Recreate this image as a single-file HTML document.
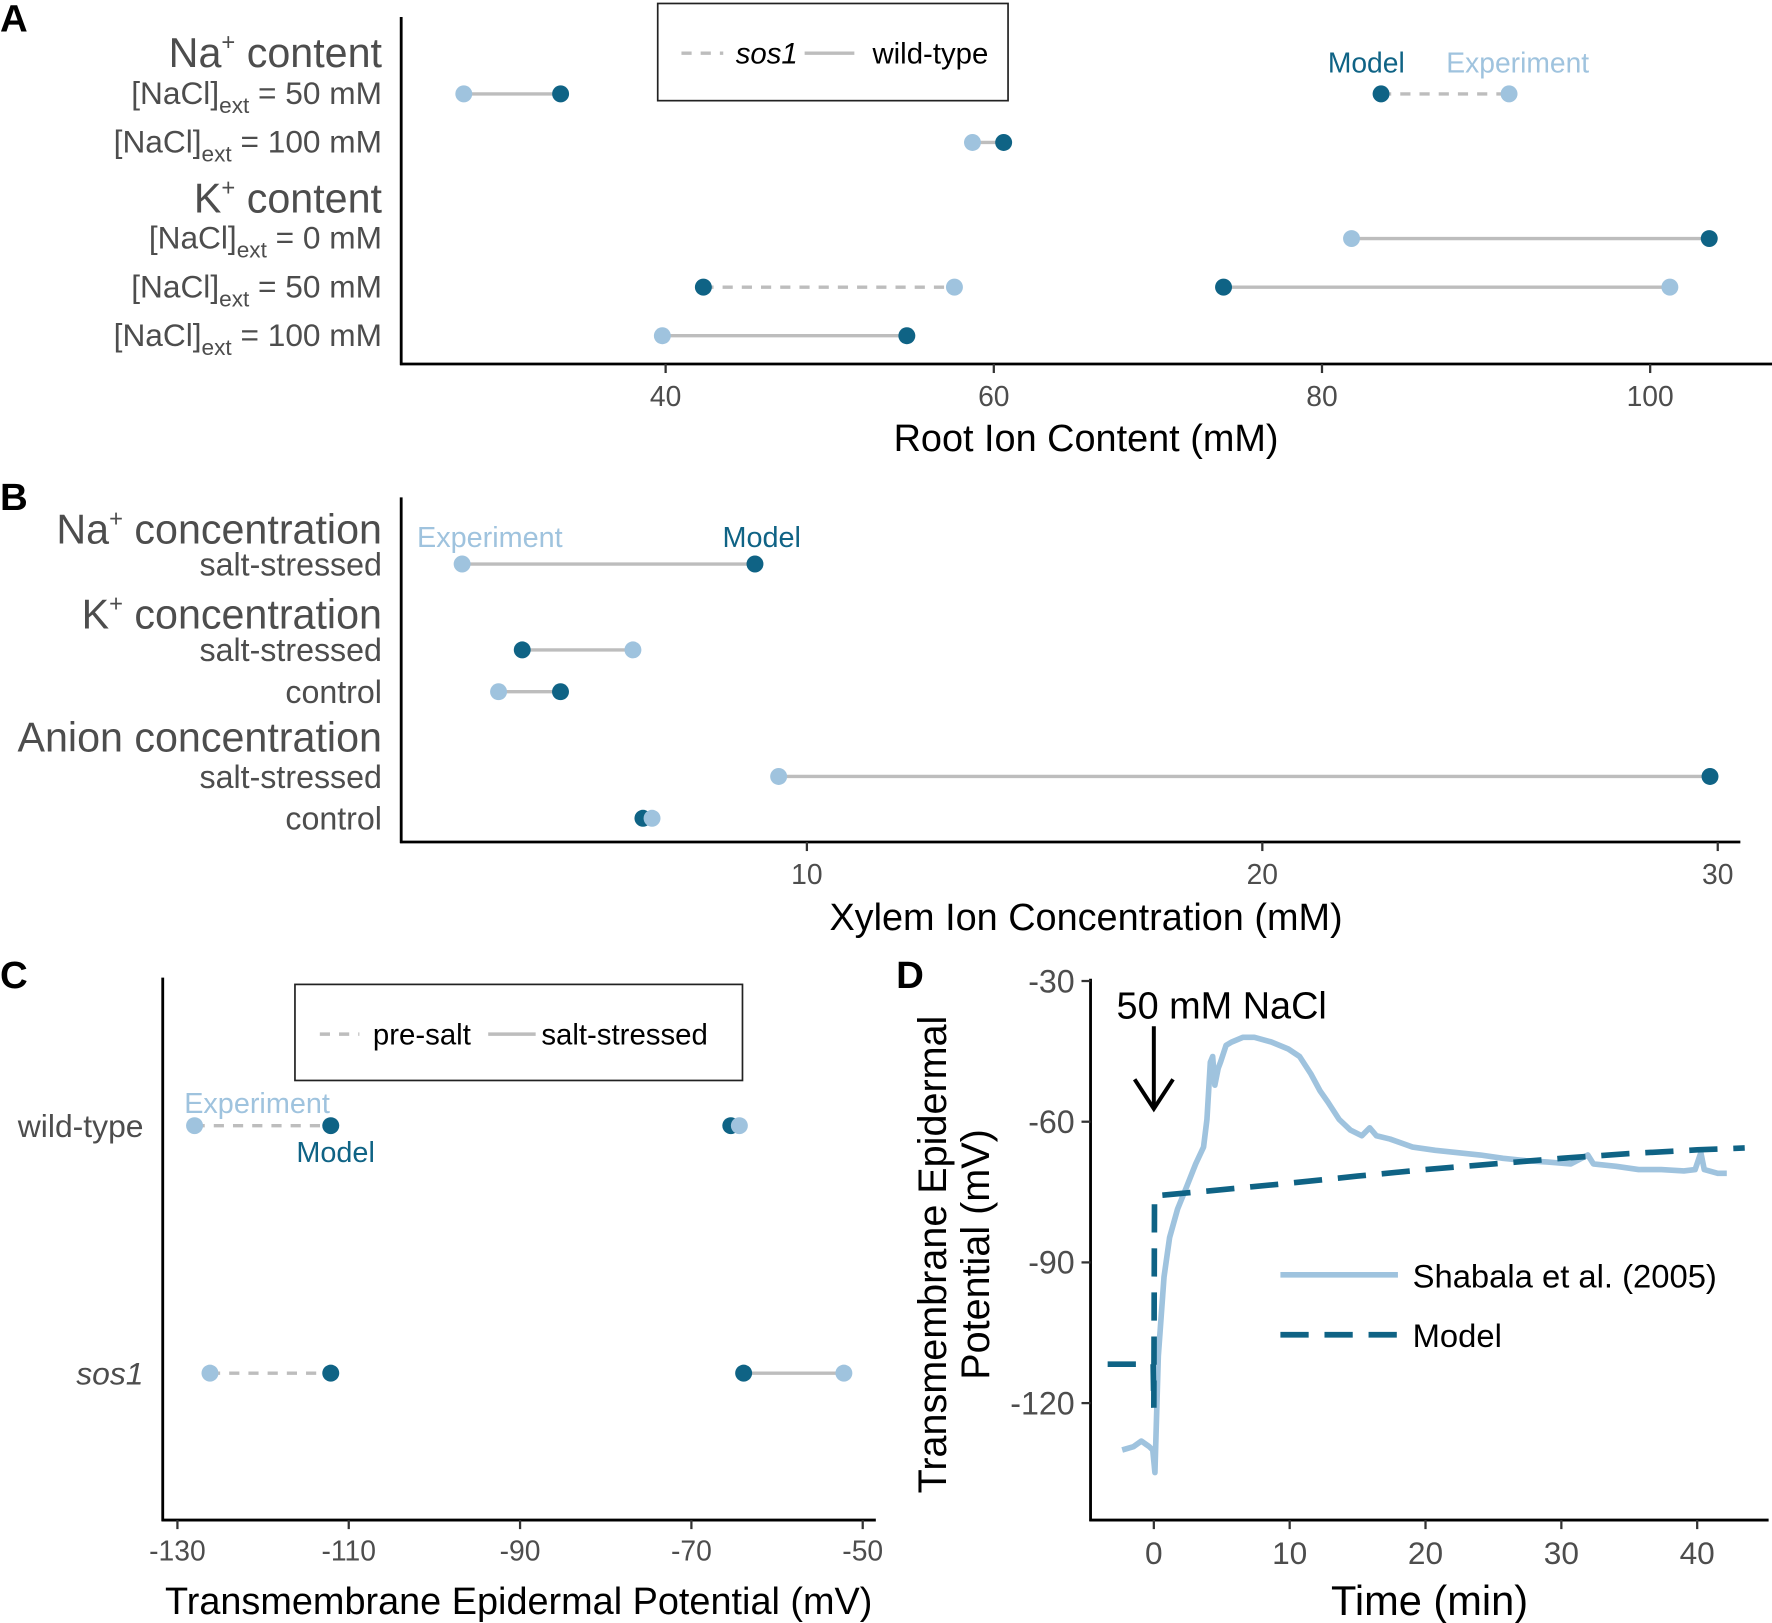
<!DOCTYPE html>
<html><head><meta charset="utf-8"><style>
html,body{margin:0;padding:0;background:#fff;}
svg{display:block;font-family:"Liberation Sans",Arial,sans-serif;}
</style></head><body>
<svg id="fig" width="1772" height="1623" viewBox="0 0 1568 1436" xmlns="http://www.w3.org/2000/svg"></svg>
<script>
// ---------- DATA ----------
// Panel A: root ion content (mM)
const aRows = ["na50","na100","k0","k50","k100"];
const aWtExp   = [27.7, 58.7, 81.8, 101.2, 39.8];
const aWtModel = [33.6, 60.6, 103.6, 74.0, 54.7];
const aSosExp   = [91.4, null, null, 57.6, null];
const aSosModel = [83.6, null, null, 42.3, null];
const aTicks = [40,60,80,100];
// Panel B: xylem ion concentration (mM)
const bRows = ["na-salt","k-salt","k-control","anion-salt","anion-control"];
const bExp   = [2.43, 6.18, 3.23, 9.38, 6.60];
const bModel = [8.86, 3.75, 4.59, 29.83, 6.40];
const bTicks = [10,20,30];
// Panel C: transmembrane potential (mV)
const cRows = ["wild-type","sos1"];
const cPreExp = [-128.0, -126.2];
const cPreModel = [-112.1, -112.1];
const cSaltExp = [-64.4, -52.2];
const cSaltModel = [-65.4, -63.9];
const cTicks = [-130,-110,-90,-70,-50];
// Panel D: time series
const dExpT = [-2.33,-1.50,-0.92,-0.33,-0.08,0.08,0.33,0.75,1.16,1.75,2.41,3.08,3.66,3.91,4.16,4.33,4.49,4.74,4.91,5.32,5.74,6.57,7.40,8.65,9.90,10.73,11.56,12.23,12.81,13.64,14.48,15.31,15.89,16.39,17.39,19.05,20.72,22.38,24.04,25.71,27.37,29.03,30.70,31.95,32.36,34.03,35.69,37.35,39.02,39.85,40.27,40.52,41.51,42.18];
const dExpV = [-130,-129.3,-128.1,-129.3,-130,-134.8,-110,-93.1,-84.7,-78.6,-73.9,-69.0,-65.4,-59.5,-47.3,-46.1,-52.2,-48.6,-47.3,-43.7,-43.0,-42.0,-42.0,-43.0,-44.5,-46.1,-49.8,-53.4,-55.8,-59.5,-61.8,-63.0,-61.3,-63.0,-63.7,-65.4,-66.1,-66.6,-67.1,-67.8,-68.3,-68.6,-69.0,-67.1,-69.0,-69.5,-70.2,-70.2,-70.5,-70.2,-66.6,-70.2,-71.0,-71.0];
const dModT = [-3.4,-0.05,0,0.05,0.1,5,10,15,20,25,30,35,40,43.5];
const dModV = [-111.7,-111.7,-121,-76,-75.8,-74.5,-73.1,-71.6,-70.2,-69,-67.8,-66.8,-66,-65.6];
const dXTicks = [0,10,20,30,40];
const dYTicks = [-30,-60,-90,-120];

// ---------- HELPERS ----------
const NS="http://www.w3.org/2000/svg";
const svg=document.getElementById('fig');
const DARK="#0f6385", LIGHT="#9fc3de", GREY="#bdbdbd", TXT="#4d4d4d";
function mk(tag,attrs,parent){const e=document.createElementNS(NS,tag);for(const k in attrs)e.setAttribute(k,attrs[k]);(parent||svg).appendChild(e);return e;}
function txt(x,y,s,size,opts,parent){opts=opts||{};const t=mk('text',{x:x,y:y,'font-size':size,fill:opts.fill||TXT,'text-anchor':opts.anchor||'start'},parent);if(opts.italic)t.setAttribute('font-style','italic');if(opts.bold)t.setAttribute('font-weight','bold');if(opts.html)t.innerHTML=s;else t.textContent=s;return t;}
function seg(x1,y,x2,dash,parent){const l=mk('line',{x1:x1,y1:y,x2:x2,y2:y,stroke:GREY,'stroke-width':3},parent);if(dash)l.setAttribute('stroke-dasharray','9 8');return l;}
function dot(x,y,c,parent){return mk('circle',{cx:x,cy:y,r:7.5,fill:c},parent);}

// ---------- PANEL A ----------
(function(){
 const g=mk('g',{});
 
 
 const X=v=>589+(v-40)*14.52;
 const rowY=[83,126,211,254,297];
 txt(0,28,'A',34,{bold:true,fill:'#000'},g);
 txt(338,59,'Na<tspan dy="-15" font-size="21">+</tspan><tspan dy="15"> content</tspan>',36.5,{anchor:'end',html:true},g);
 txt(338,188,'K<tspan dy="-15" font-size="21">+</tspan><tspan dy="15"> content</tspan>',36.5,{anchor:'end',html:true},g);
 const labs=['50','100','0','50','100'];
 labs.forEach((s,i)=>{const t=txt(338,rowY[i]+9,'[NaCl]<tspan dy="8" font-size="20">ext</tspan><tspan dy="-8"> = '+s+' mM</tspan>',28,{anchor:'end',html:true},g);
  });
 aRows.forEach((r,i)=>{
  const y=rowY[i];
  if(aSosExp[i]!=null){seg(X(aSosModel[i]),y,X(aSosExp[i]),true,g);
   const m=dot(X(aSosModel[i]),y,DARK,g);
   const e=dot(X(aSosExp[i]),y,LIGHT,g);}
  seg(X(aWtModel[i]),y,X(aWtExp[i]),false,g);
  const e=dot(X(aWtExp[i]),y,LIGHT,g);
  const m=dot(X(aWtModel[i]),y,DARK,g);
 });
 mk('line',{x1:355,y1:15,x2:355,y2:323,stroke:'#000','stroke-width':2.5},g);
 mk('line',{x1:354,y1:322,x2:1568,y2:322,stroke:'#000','stroke-width':2.5},g);
 aTicks.forEach(v=>{mk('line',{x1:X(v),y1:322,x2:X(v),y2:330,stroke:'#333','stroke-width':2},g);txt(X(v),359,String(v),25,{anchor:'middle'},g);});
 const xt=txt(961,399,'Root Ion Content (mM)',33.5,{anchor:'middle',fill:'#000'},g);
 
 const lg=mk('g',{},g);
 mk('rect',{x:582,y:3,width:310,height:86,fill:'#fff',stroke:'#222','stroke-width':1.5},lg);
 seg(603,47,640,true,lg);txt(651,56,'sos1',26,{italic:true,fill:'#000'},lg);
 seg(712,47,756,false,lg);txt(772,56,'wild-type',26,{fill:'#000'},lg);
 txt(1209,64,'Model',25,{anchor:'middle',fill:DARK},g);
 txt(1343,64,'Experiment',25,{anchor:'middle',fill:LIGHT},g);
})();

// ---------- PANEL B ----------
(function(){
 const g=mk('g',{});
 
 
 const X=v=>714+(v-10)*40.3;
 const rowY=[499,575,612,687,724];
 txt(0,451,'B',34,{bold:true,fill:'#000'},g);
 txt(338,481,'Na<tspan dy="-15" font-size="21">+</tspan><tspan dy="15"> concentration</tspan>',36.5,{anchor:'end',html:true},g);
 txt(338,556,'K<tspan dy="-15" font-size="21">+</tspan><tspan dy="15"> concentration</tspan>',36.5,{anchor:'end',html:true},g);
 txt(338,665,'Anion concentration',36.5,{anchor:'end'},g);
 const labs=['salt-stressed','salt-stressed','control','salt-stressed','control'];
 labs.forEach((s,i)=>{const t=txt(338,rowY[i]+10,s,28.5,{anchor:'end'},g);});
 bRows.forEach((r,i)=>{const y=rowY[i];
  seg(X(bExp[i]),y,X(bModel[i]),false,g);
  const m=dot(X(bModel[i]),y,DARK,g);
  const e=dot(X(bExp[i]),y,LIGHT,g);
 });
 mk('line',{x1:355,y1:440,x2:355,y2:746,stroke:'#000','stroke-width':2.5},g);
 mk('line',{x1:354,y1:745,x2:1540,y2:745,stroke:'#000','stroke-width':2.5},g);
 bTicks.forEach(v=>{mk('line',{x1:X(v),y1:745,x2:X(v),y2:753,stroke:'#333','stroke-width':2},g);txt(X(v),782,String(v),25,{anchor:'middle'},g);});
 const xt=txt(961,823,'Xylem Ion Concentration (mM)',33.5,{anchor:'middle',fill:'#000'},g);
 
 txt(369,484,'Experiment',25.5,{fill:LIGHT},g);
 txt(674,484,'Model',25.5,{anchor:'middle',fill:DARK},g);
})();

// ---------- PANEL C ----------
(function(){
 const g=mk('g',{});
 
 
 const X=v=>157+(v+130)*7.58;
 const rowY=[996,1215];
 txt(0,874,'C',34,{bold:true,fill:'#000'},g);
 txt(127,1006,'wild-type',28.2,{anchor:'end'},g);
 txt(127,1225,'sos1',28.2,{anchor:'end',italic:true},g);
 cRows.forEach((r,i)=>{const y=rowY[i];
  seg(X(cPreExp[i]),y,X(cPreModel[i]),true,g);
  seg(X(cSaltModel[i]),y,X(cSaltExp[i]),false,g);
  let p=dot(X(cPreExp[i]),y,LIGHT,g);
  p=dot(X(cPreModel[i]),y,DARK,g);
  p=dot(X(cSaltModel[i]),y,DARK,g);
  p=dot(X(cSaltExp[i]),y,LIGHT,g);
 });
 mk('line',{x1:144,y1:865,x2:144,y2:1346,stroke:'#000','stroke-width':2.5},g);
 mk('line',{x1:143,y1:1345,x2:775,y2:1345,stroke:'#000','stroke-width':2.5},g);
 cTicks.forEach(v=>{mk('line',{x1:X(v),y1:1345,x2:X(v),y2:1353,stroke:'#333','stroke-width':2},g);txt(X(v),1381,String(v),25,{anchor:'middle'},g);});
 const xt=txt(459,1428,'Transmembrane Epidermal Potential (mV)',33.5,{anchor:'middle',fill:'#000'},g);
 
 const lg=mk('g',{},g);
 mk('rect',{x:261,y:871,width:396,height:85,fill:'#fff',stroke:'#222','stroke-width':1.5},lg);
 seg(283,915,318,true,lg);txt(330,924,'pre-salt',26,{fill:'#000'},lg);
 seg(432,915,474,false,lg);txt(479,924,'salt-stressed',26,{fill:'#000'},lg);
 txt(163,985,'Experiment',25.5,{fill:LIGHT},g);
 txt(297,1028,'Model',25.5,{anchor:'middle',fill:DARK},g);
})();

// ---------- PANEL D ----------
(function(){
 const g=mk('g',{});
 
 
 const X=t=>1021+t*12.02;
 const Y=v=>868+(-30-v)*4.15;
 txt(793,874,'D',34,{bold:true,fill:'#000'},g);
 const ep=mk('polyline',{points:dExpT.map((t,i)=>X(t)+','+Y(dExpV[i])).join(' '),fill:'none',stroke:LIGHT,'stroke-width':5,'stroke-linejoin':'round'},g);
 
 const mp=mk('polyline',{points:dModT.map((t,i)=>X(t)+','+Y(dModV[i])).join(' '),fill:'none',stroke:DARK,'stroke-width':5,'stroke-dasharray':'25 14'},g);
 
 mk('line',{x1:965,y1:866,x2:965,y2:1346,stroke:'#000','stroke-width':2.5},g);
 mk('line',{x1:964,y1:1345,x2:1565,y2:1345,stroke:'#000','stroke-width':2.5},g);
 dXTicks.forEach(v=>{mk('line',{x1:X(v),y1:1345,x2:X(v),y2:1353,stroke:'#333','stroke-width':2},g);txt(X(v),1384,String(v),28,{anchor:'middle'},g);});
 dYTicks.forEach(v=>{mk('line',{x1:957,y1:Y(v),x2:965,y2:Y(v),stroke:'#333','stroke-width':2},g);txt(951,Y(v)+10,String(v),28.5,{anchor:'end'},g);});
 const t1=txt(0,0,'Transmembrane Epidermal',35,{anchor:'middle',fill:'#000'},g);
 t1.setAttribute('transform','translate(837,1110) rotate(-90)');
 const t2=txt(0,0,'Potential (mV)',35,{anchor:'middle',fill:'#000'},g);
 t2.setAttribute('transform','translate(875,1110) rotate(-90)');
 
 const xt=txt(1265,1429,'Time (min)',36.8,{anchor:'middle',fill:'#000'},g);
 
 txt(988,901,'50 mM NaCl',33.5,{fill:'#000'},g);
 const ar=mk('g',{},g);
 mk('line',{x1:1021,y1:908,x2:1021,y2:978,stroke:'#000','stroke-width':3.5},ar);
 mk('polyline',{points:'1004,955 1021,981 1038,955',fill:'none',stroke:'#000','stroke-width':3.5},ar);
 const lg=mk('g',{},g);
 mk('line',{x1:1133,y1:1128,x2:1237,y2:1128,stroke:LIGHT,'stroke-width':5},lg);
 txt(1250,1139,'Shabala et al. (2005)',29,{fill:'#000'},lg);
 mk('line',{x1:1133,y1:1181,x2:1237,y2:1181,stroke:DARK,'stroke-width':5,'stroke-dasharray':'25 14'},lg);
 txt(1250,1192,'Model',29,{fill:'#000'},lg);
})();
</script>
</body></html>
